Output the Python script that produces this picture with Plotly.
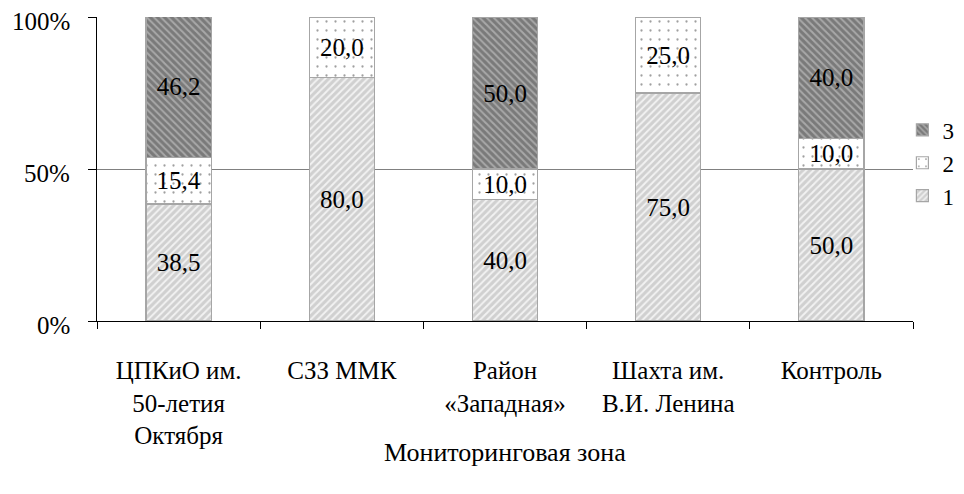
import plotly.graph_objects as go

categories = ["ЦПКиО им.<br>50-летия<br>Октября", "СЗЗ ММК", "Район<br>«Западная»",
              "Шахта им.<br>В.И. Ленина", "Контроль"]
series_names = ["1", "2", "3"]
s1 = [38.5, 80.0, 40.0, 75.0, 50.0]
s2 = [15.4, 20.0, 10.0, 25.0, 10.0]
s3 = [46.2, 0, 50.0, 0, 40.0]
y_ticks = [0, 50, 100]
y_tick_labels = ["0%", "50%", "100%"]
x_title = "Мониторинговая зона"

FONT = "Times New Roman, Liberation Serif, DejaVu Serif, serif"

styles = [
    dict(bg="#d0d0d0", fg="#f2f2f2", shape="/", size=5, sol=0.4),
    dict(bg="#ffffff", fg="#a0a0a0", shape=".", size=9, sol=0.05),
    dict(bg="#7a7a7a", fg="#a8a8a8", shape="\\", size=5, sol=0.4),
]

fig = go.Figure()
for name, vals, st in zip(series_names, [s1, s2, s3], styles):
    texts = [f"{v:.1f}".replace(".", ",") if v > 0 else "" for v in vals]
    fig.add_trace(go.Bar(
        x=categories, y=vals, name=name, width=0.4,
        text=texts, textposition="inside", insidetextanchor="middle",
        textfont=dict(family=FONT, size=25, color="black"),
        constraintext="none",
        marker=dict(color=st["bg"],
                    line=dict(color="#a6a6a6", width=1.2),
                    pattern=dict(shape=st["shape"], bgcolor=st["bg"], fgcolor=st["fg"],
                                 size=st["size"], solidity=st["sol"], fillmode="replace")),
    ))

# y tick labels as axis-anchored annotations (slightly below their gridlines, as in the original)
for v, lab in zip(y_ticks, y_tick_labels):
    fig.add_annotation(x=0, xref="paper", y=v, yref="y", text=lab, showarrow=False,
                       xanchor="right", yanchor="middle", xshift=-25, yshift=-4,
                       font=dict(family=FONT, size=25, color="black"))

# x axis title
fig.add_annotation(x=0.5, xref="paper", y=0, yref="paper", text=x_title, showarrow=False,
                   xanchor="center", yanchor="middle", yshift=-131,
                   font=dict(family=FONT, size=26, color="black"))

fig.update_layout(
    barmode="stack",
    width=956, height=486,
    margin=dict(l=89, r=51, t=9, b=173, autoexpand=False),
    paper_bgcolor="white", plot_bgcolor="white",
    font=dict(family=FONT, size=25, color="black"),
    showlegend=True,
    legend=dict(x=0.987, y=0.52, xanchor="left", yanchor="middle",
                traceorder="reversed", font=dict(family=FONT, size=23),
                itemwidth=30, tracegroupgap=0, bgcolor="rgba(0,0,0,0)"),
)
fig.update_xaxes(
    automargin=False,
    showline=True, linecolor="black", linewidth=1,
    ticks="outside", tickson="boundaries", ticklen=7, tickcolor="black",
    showgrid=False, ticklabelstandoff=27,
    tickfont=dict(family=FONT, size=25),
)
fig.update_yaxes(
    automargin=False,
    range=[0, 100], tickmode="array", tickvals=y_ticks, showticklabels=False,
    showline=True, linecolor="black", linewidth=1,
    ticks="outside", ticklen=8, tickcolor="black",
    showgrid=True, gridcolor="#808080", gridwidth=1,
    zeroline=False,
)

fig.write_html("out.html")
